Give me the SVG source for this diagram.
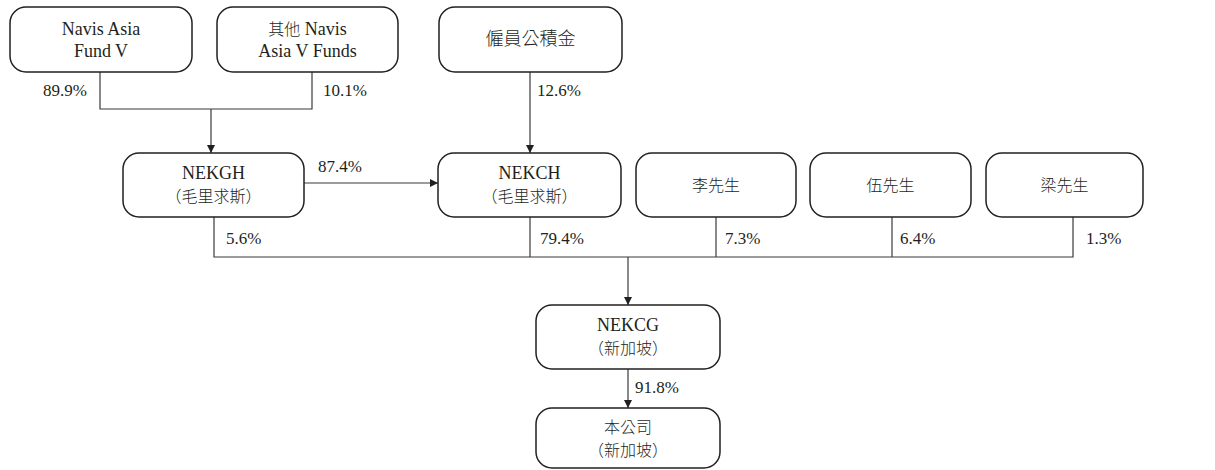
<svg xmlns="http://www.w3.org/2000/svg" width="1215" height="470" viewBox="0 0 1215 470">
<style>
.box{fill:#fff;stroke:#231f20;stroke-width:1.5}
.t{font-family:"Liberation Serif","Noto Sans CJK TC",serif;font-size:18px;fill:#231f20;text-anchor:middle}
.c{font-family:"Noto Sans CJK TC",sans-serif;font-size:16px;font-weight:300;fill:#231f20;text-anchor:middle}
.cs{font-family:"Noto Sans CJK TC",sans-serif;font-size:16px;font-weight:300}
.p{font-family:"Liberation Serif",serif;font-size:17px;fill:#231f20}
.ln{fill:none;stroke:#3a3a3a;stroke-width:1.2}
</style>
<defs>
<marker id="ah" viewBox="0 0 10 10" refX="10" refY="5" markerWidth="8" markerHeight="8" markerUnits="userSpaceOnUse" orient="auto">
<path d="M0,0 L10,5 L0,10 z" fill="#231f20"/>
</marker>
</defs>
<g id="connectors">
<path class="ln" d="M100,72 V109 H312 V72"/>
<path class="ln" d="M211,109 V153" marker-end="url(#ah)"/>
<path class="ln" d="M530,72 V153" marker-end="url(#ah)"/>
<path class="ln" d="M304,183 H438" marker-end="url(#ah)"/>
<path class="ln" d="M214,217 V257 H1073 V217"/>
<path class="ln" d="M530,217 V257"/>
<path class="ln" d="M716,217 V257"/>
<path class="ln" d="M892,217 V257"/>
<path class="ln" d="M628,257 V305" marker-end="url(#ah)"/>
<path class="ln" d="M628,369 V408" marker-end="url(#ah)"/>
<text class="p" x="43" y="96">89.9%</text>
<text class="p" x="323" y="96">10.1%</text>
<text class="p" x="537" y="96">12.6%</text>
<text class="p" x="318" y="172">87.4%</text>
<text class="p" x="226" y="244">5.6%</text>
<text class="p" x="540" y="244">79.4%</text>
<text class="p" x="725" y="244">7.3%</text>
<text class="p" x="900" y="244">6.4%</text>
<text class="p" x="1086" y="244">1.3%</text>
<text class="p" x="635" y="393">91.8%</text>
</g>
<g id="n1"><rect class="box" x="10" y="7" width="182" height="65" rx="16"/><text class="t" x="101" y="35">Navis Asia</text><text class="t" x="101" y="57">Fund V</text></g>
<g id="n2"><rect class="box" x="217" y="7" width="181" height="65" rx="16"/><text class="t" x="307.5" y="35"><tspan class="cs">其他</tspan> Navis</text><text class="t" x="307.5" y="57">Asia V Funds</text></g>
<g id="n3"><rect class="box" x="439" y="7" width="183" height="65" rx="16"/><text class="c" x="530.5" y="45" style="font-size:18px">僱員公積金</text></g>
<g id="n4"><rect class="box" x="123" y="153" width="181" height="64" rx="16"/><text class="t" x="213.5" y="179">NEKGH</text><text class="c" x="213.5" y="202">（毛里求斯）</text></g>
<g id="n5"><rect class="box" x="438" y="153" width="183" height="64" rx="16"/><text class="t" x="529.5" y="179">NEKCH</text><text class="c" x="529.5" y="202">（毛里求斯）</text></g>
<g id="n6"><rect class="box" x="636" y="153" width="160" height="64" rx="16"/><text class="c" x="716" y="191">李先生</text></g>
<g id="n7"><rect class="box" x="810" y="153" width="161" height="64" rx="16"/><text class="c" x="890.5" y="191">伍先生</text></g>
<g id="n8"><rect class="box" x="986" y="153" width="157" height="64" rx="16"/><text class="c" x="1064.5" y="191">梁先生</text></g>
<g id="n9"><rect class="box" x="536" y="305" width="184" height="64" rx="16"/><text class="t" x="628" y="331">NEKCG</text><text class="c" x="628" y="354">（新加坡）</text></g>
<g id="n10"><rect class="box" x="536" y="408" width="184" height="60" rx="16"/><text class="c" x="628" y="433">本公司</text><text class="c" x="628" y="456">（新加坡）</text></g>
</svg>
